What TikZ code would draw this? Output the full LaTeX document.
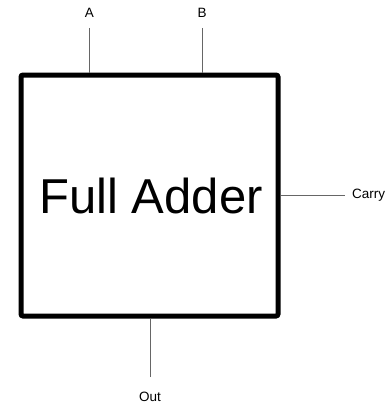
\documentclass[tikz,border=0pt]{standalone}
\usepackage{fontspec}
\setmainfont{Liberation Sans}
\begin{document}
\begin{tikzpicture}[x=1pt,y=-1pt,
  blockbox/.style={draw=black,line width=5pt,rounded corners=2pt,minimum width=257pt,minimum height=241pt,inner sep=0pt,font=\fontsize{49}{55}\selectfont},
  lbl/.style={inner sep=0pt,font=\fontsize{13.5}{15}\selectfont},
  wire/.style={draw=black!60,line width=0.9pt}]
\useasboundingbox (0,0) rectangle (390,404);
\node[blockbox] (box) at (149.5,195.5) {\hspace*{3pt}Full Adder};
\node[lbl] (A) at (89.5,13) {A};
\node[lbl] (B) at (202,13) {B};
\node[lbl,anchor=west] (C) at (352,195) {Carry};
\node[lbl] (O) at (150,397) {Out};
\draw[wire,shorten <=10pt] (A.south) -- (A.south |- box.north);
\draw[wire,shorten <=10pt] (B.south) -- (B.south |- box.north);
\draw[wire,shorten >=7pt] (box.east |- C.west) -- (C.west);
\draw[wire,shorten <=15pt] (O.north) -- (O.north |- box.south);
\end{tikzpicture}
\end{document}
